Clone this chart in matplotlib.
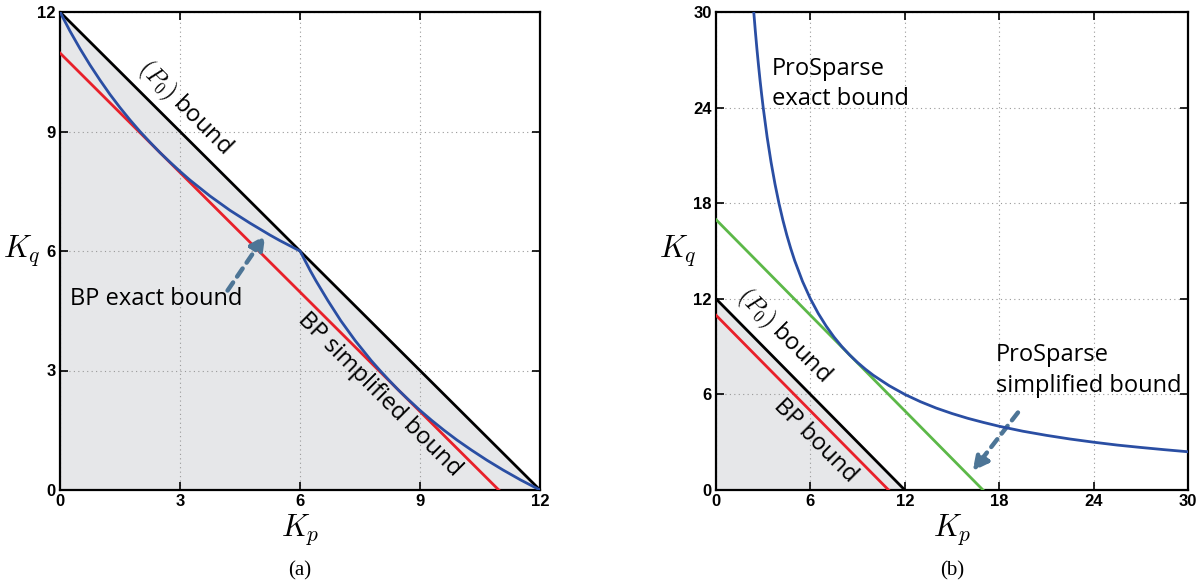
import numpy as np
import matplotlib
matplotlib.use('Agg')
import matplotlib.pyplot as plt

plt.rcParams['mathtext.fontset'] = 'cm'

# ---- panel (a) data ----
a_p0_kp = [0, 12]
a_p0_kq = [12, 0]
a_bp_simple_kp = [0, 10.97]
a_bp_simple_kq = [10.97, 0]
a_half_kp = [0, 0.25, 0.5, 0.75, 1, 1.25, 1.5, 1.75, 2, 2.25, 2.5, 2.75, 3,
             3.25, 3.5, 3.75, 4, 4.25, 4.5, 4.75, 5, 5.25, 5.5, 5.75, 6]
a_half_kq = [12, 11.52, 11.08, 10.67, 10.29, 9.93, 9.6, 9.29, 9.0, 8.73, 8.47, 8.23, 8.0,
             7.78, 7.58, 7.38, 7.2, 7.02, 6.86, 6.70, 6.55, 6.4, 6.26, 6.13, 6]
# curve is symmetric about Kp = Kq, second half is the mirror of the first
a_bp_exact_kp = a_half_kp + a_half_kq[::-1][1:]
a_bp_exact_kq = a_half_kq + a_half_kp[::-1][1:]
a_ticks = [0, 3, 6, 9, 12]

# ---- panel (b) data ----
b_p0_kp = [0, 12]
b_p0_kq = [12, 0]
b_bp_kp = [0, 10.97]
b_bp_kq = [10.97, 0]
b_pro_simple_kp = [0, 16.97]
b_pro_simple_kq = [16.97, 0]
b_pro_exact_kp = [2.4, 2.5, 2.6, 2.7, 2.8, 2.9, 3, 3.25, 3.5, 3.75, 4, 4.25, 4.5, 4.75,
                  5, 5.5, 6, 6.5, 7, 7.5, 8, 8.5, 9, 9.5, 10, 11, 12, 13, 14, 15, 16,
                  17, 18, 19.5, 21, 22.5, 24, 25.5, 27, 28.5, 30]
b_pro_exact_kq = [30, 28.8, 27.69, 26.67, 25.71, 24.83, 24, 22.15, 20.57, 19.2, 18, 16.94,
                  16, 15.16, 14.4, 13.09, 12, 11.08, 10.29, 9.6, 9, 8.47, 8, 7.58, 7.2,
                  6.55, 6, 5.54, 5.14, 4.8, 4.5, 4.24, 4, 3.69, 3.43, 3.2, 3, 2.82,
                  2.67, 2.53, 2.4]
b_ticks = [0, 6, 12, 18, 24, 30]

BLUE = '#2a4ea3'
RED = '#e8202a'
GREEN = '#5cb848'
GRAY = '#e6e7e9'
ARROW = '#4d7596'
TXT = dict(family='Open Sans', fontsize=17)
ARROWPROPS = dict(arrowstyle='-|>,head_length=0.9,head_width=0.45',
                  color=ARROW, lw=3.2, linestyle=(0, (2.2, 1.6)))

fig = plt.figure(figsize=(12.01, 5.87), dpi=100)
ax1 = fig.add_axes([60/1201, 97/587, 480/1201, 478/587])
ax2 = fig.add_axes([716/1201, 97/587, 472/1201, 478/587])


def style(ax, ticks):
    ax.set_xlim(ticks[0], ticks[-1])
    ax.set_ylim(ticks[0], ticks[-1])
    labels = [str(t) for t in ticks]
    ax.set_xticks(ticks, labels=labels, fontweight='bold',
                  family='Liberation Sans', fontsize=12)
    ax.set_yticks(ticks, labels=labels, fontweight='bold',
                  family='Liberation Sans', fontsize=12)
    ax.grid(True, linestyle=(0, (1, 3)), color='#999999', linewidth=0.8)
    ax.tick_params(direction='in', length=6, width=1.2, top=True, right=True, pad=3)
    for s in ax.spines.values():
        s.set_linewidth(1.6)
    ax.set_xlabel(r'$K_p$', fontsize=22, labelpad=2)
    ax.set_ylabel(r'$K_q$', fontsize=22, rotation=0, va='center', ha='right')
    ax.yaxis.set_label_coords(-0.04, 0.5)


# panel (a)
ax = ax1
ax.fill_between(a_p0_kp, a_p0_kq, 0, color=GRAY, zorder=0, linewidth=0)
ax.plot(a_p0_kp, a_p0_kq, color='black', lw=2, zorder=3)
ax.plot(a_bp_simple_kp, a_bp_simple_kq, color=RED, lw=2, zorder=3)
ax.plot(a_bp_exact_kp, a_bp_exact_kq, color=BLUE, lw=2, zorder=4)
style(ax, a_ticks)
ax.text(3.1, 9.6, r'$(P_0)$ bound', rotation=-45, ha='center', va='center', **TXT)
ax.text(8.0, 2.4, 'BP simplified bound', rotation=-45, ha='center', va='center', **TXT)
ax.text(0.25, 4.8, 'BP exact bound', ha='left', va='center', **TXT)
ax.annotate('', xy=(5.17, 6.45), xytext=(4.15, 4.95), arrowprops=ARROWPROPS)
ax.text(0.5, -0.17, '(a)', transform=ax.transAxes, ha='center', va='center',
        family='Liberation Serif', fontsize=15)

# panel (b)
ax = ax2
ax.fill_between(b_p0_kp, b_p0_kq, 0, color=GRAY, zorder=0, linewidth=0)
ax.plot(b_p0_kp, b_p0_kq, color='black', lw=2, zorder=3)
ax.plot(b_bp_kp, b_bp_kq, color=RED, lw=2, zorder=3)
ax.plot(b_pro_simple_kp, b_pro_simple_kq, color=GREEN, lw=2, zorder=3)
ax.plot(b_pro_exact_kp, b_pro_exact_kq, color=BLUE, lw=2, zorder=4)
style(ax, b_ticks)
ax.text(3.55, 25.5, 'ProSparse\nexact bound', ha='left', va='center',
        linespacing=1.35, **TXT)
ax.text(4.3, 9.7, r'$(P_0)$ bound', rotation=-45, ha='center', va='center', **TXT)
ax.text(6.3, 3.1, 'BP bound', rotation=-45, ha='center', va='center', **TXT)
ax.text(17.8, 7.5, 'ProSparse\nsimplified bound', ha='left', va='center',
        linespacing=1.35, **TXT)
ax.annotate('', xy=(16.2, 1.05), xytext=(19.3, 5.0), arrowprops=ARROWPROPS)
ax.text(0.5, -0.17, '(b)', transform=ax.transAxes, ha='center', va='center',
        family='Liberation Serif', fontsize=15)

fig.savefig('out.png', dpi=100)
